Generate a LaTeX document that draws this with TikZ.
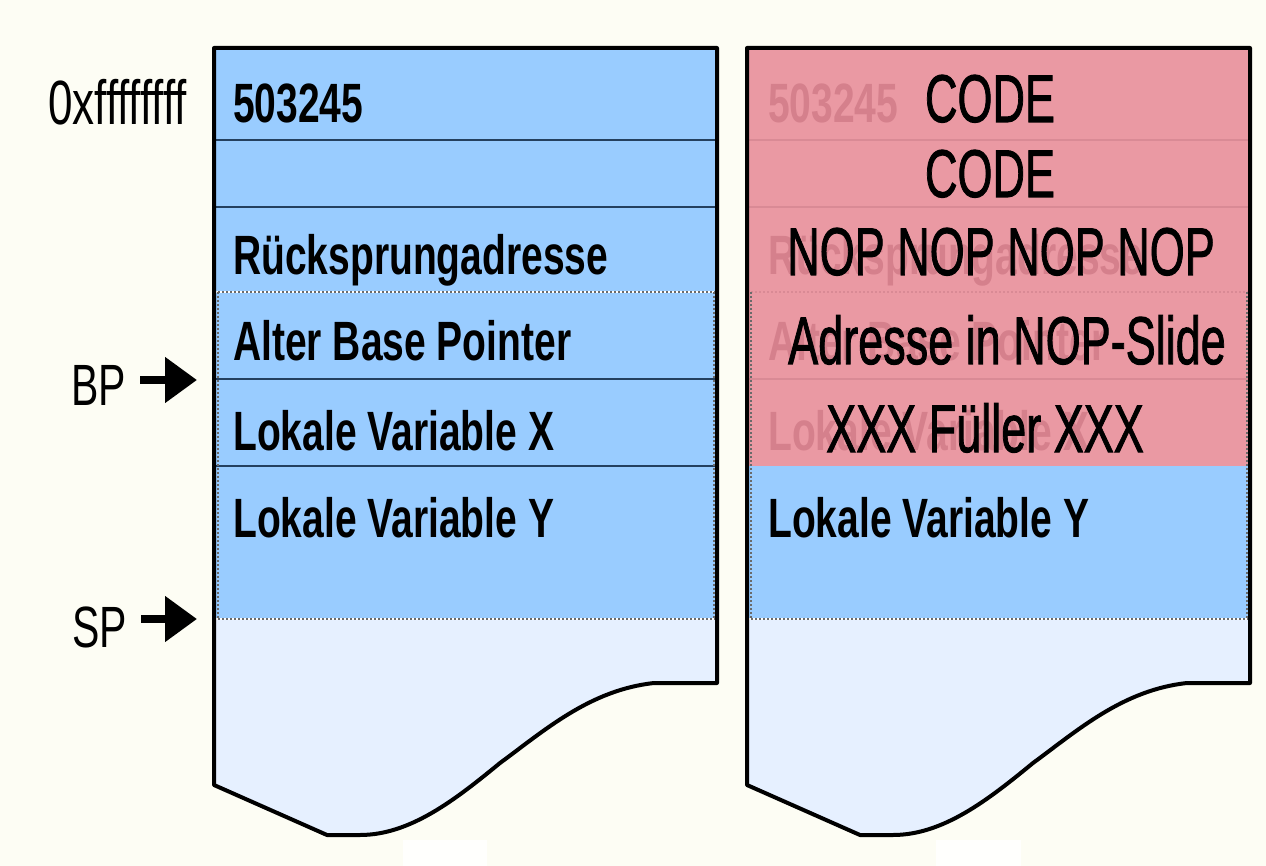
\documentclass[tikz,border=0pt]{standalone}
\usepackage{fontspec}
\setmainfont{Liberation Sans}
\newfontfamily\heavyfont[FakeBold=1.6]{Liberation Sans}
\usepackage{graphicx}
\usetikzlibrary{arrows.meta}
\definecolor{bgc}{HTML}{FDFDF4}
\definecolor{stackblue}{HTML}{99CCFF}
\definecolor{stacklight}{HTML}{E6F0FF}
\definecolor{stackpink}{HTML}{EA99A3}
\definecolor{ghostpink}{HTML}{D5808C}
\definecolor{sepnavy}{HTML}{24405F}
\definecolor{seppink}{HTML}{D98A95}
\definecolor{dotgray}{HTML}{6A6A6A}
\definecolor{patch}{HTML}{FFFFFD}
\newcommand{\tallbold}[1]{\scalebox{1}[1.42]{\fontsize{39}{39}\selectfont\bfseries #1}}
\newcommand{\tallbig}[1]{\scalebox{1}[1.5]{\fontsize{45}{45}\heavyfont #1}}
\newcommand{\talllab}[2]{\scalebox{1}[1.42]{\fontsize{#1}{#1}\selectfont #2}}
\def\colshape{(214,48) -- (717,48) -- (717,683) -- (654,683) .. controls (590,690) and (545,730) .. (500,763) .. controls (455,800) and (410,835) .. (360,835) -- (327,835) -- (214,785) -- cycle}
\tikzset{
  cell/.style={anchor=base west, inner sep=0pt, text=black},
  ghost/.style={anchor=base west, inner sep=0pt, text=ghostpink},
  over/.style={anchor=base, inner sep=0pt, text=black},
  lab/.style={anchor=base east, inner sep=0pt, text=black},
  ptr/.style={line width=8pt, -{Triangle[length=32pt,width=44pt]}, shorten <=14pt},
  outline/.style={draw=black, line width=4pt, line join=round},
  sepline/.style={draw=sepnavy, line width=2pt},
  pinkline/.style={draw=seppink, line width=1.5pt},
  whiteline/.style={draw=white, line width=2pt},
  dotline/.style={draw=dotgray, line width=2pt, dash pattern=on 2pt off 2pt},
  pinkdot/.style={draw=seppink, line width=2pt, dash pattern=on 2pt off 2pt}
}
\begin{document}
\begin{tikzpicture}[x=1pt,y=-1pt]
\useasboundingbox (0,0) rectangle (1266,866);
\fill[bgc] (0,0) rectangle (1266,866);
\fill[patch] (403,840) rectangle (487,866);
\fill[patch] (936,840) rectangle (1021,866);
% ---------- left column ----------
\fill[stacklight] \colshape;
\begin{scope}
  \clip \colshape;
  \fill[stackblue] (200,40) rectangle (730,619);
\end{scope}
\draw[sepline] (214,140) -- (717,140);
\draw[sepline] (214,207) -- (717,207);
\draw[sepline] (214,379) -- (717,379);
\draw[sepline] (214,466) -- (717,466);
\draw[whiteline] (214,292) -- (717,292);
\draw[dotline] (214,292) -- (717,292);
\draw[whiteline] (214,619) -- (717,619);
\draw[dotline] (214,619) -- (717,619);
\draw[dotline] (218,292) -- (218,619);
\draw[dotline] (714,292) -- (714,619);
\draw[outline] \colshape;
% ---------- right column ----------
\begin{scope}[xshift=533pt]
  \fill[stacklight] \colshape;
  \begin{scope}
    \clip \colshape;
    \fill[stackblue] (200,40) rectangle (730,619);
    \fill[stackpink] (200,40) rectangle (730,466);
  \end{scope}
  \draw[pinkline] (214,140) -- (717,140);
  \draw[pinkline] (214,207) -- (717,207);
  \draw[pinkline] (214,379) -- (717,379);
  \draw[pinkdot] (214,292) -- (717,292);
  \draw[whiteline] (214,619) -- (717,619);
  \draw[dotline] (214,619) -- (717,619);
  \draw[dotline] (218,292) -- (218,619);
  \draw[dotline] (714,292) -- (714,619);
  \draw[outline] \colshape;
\end{scope}
% ---------- left texts ----------
\node[cell] (l1) at (233,123) {\tallbold{503245}};
\node[cell] (l3) at (233,275) {\tallbold{Rücksprungadresse}};
\node[cell] (l4) at (233,360) {\tallbold{Alter Base Pointer}};
\node[cell] (l5) at (233,450) {\tallbold{Lokale Variable X}};
\node[cell] (l6) at (233,537) {\tallbold{Lokale Variable Y}};
% ---------- right ghost texts ----------
\node[ghost] (r1) at (768,123) {\tallbold{503245}};
\node[ghost] (r3) at (768,275) {\tallbold{Rücksprungadresse}};
\node[ghost] (r4) at (768,360) {\tallbold{Alter Base Pointer}};
\node[ghost] (r5) at (768,450) {\tallbold{Lokale Variable X}};
\node[cell] (r6) at (768,537) {\tallbold{Lokale Variable Y}};
% ---------- right overlay texts ----------
\node[over] (o1) at (990,122) {\tallbig{CODE}};
\node[over] (o2) at (990,197) {\tallbig{CODE}};
\node[over] (o3) at (1001,275) {\tallbig{NOP NOP NOP NOP}};
\node[over] (o4) at (1007,364) {\tallbig{Adresse in NOP-Slide}};
\node[over] (o5) at (985,452) {\tallbig{XXX Füller XXX}};
% ---------- pointer labels ----------
\node[lab] (top) at (187,125) {\talllab{44}{0xffffffff}};
\node[lab] (bp) at (126,405) {\talllab{41}{BP}};
\node[lab] (sp) at (127,647) {\talllab{41}{SP}};
\coordinate (bptip) at (197,380);
\coordinate (sptip) at (197,619);
\draw[ptr] (bp.east |- bptip) -- (bptip);
\draw[ptr] (sp.east |- sptip) -- (sptip);
\end{tikzpicture}
\end{document}
